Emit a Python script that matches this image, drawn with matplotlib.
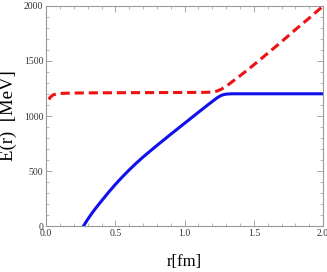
import matplotlib.pyplot as plt
from matplotlib.ticker import MultipleLocator

# values
r_blue = [0.27, 0.30, 0.33, 0.36, 0.40, 0.45, 0.50, 0.55, 0.60, 0.65, 0.70, 0.75, 0.80,
          0.90, 1.00, 1.10, 1.18, 1.24, 1.27, 1.30, 1.34, 1.40, 1.60, 1.80, 2.00]
E_blue = [0, 60, 115, 165, 228, 305, 378, 446, 510, 570, 627, 680, 732,
          834, 934, 1034, 1113, 1170, 1190, 1199, 1202, 1202, 1202, 1202, 1202]

r_red = [0.02, 0.03, 0.05, 0.08, 0.12, 0.20, 0.40, 0.60, 0.80, 1.00, 1.15, 1.20,
         1.23, 1.26, 1.30, 1.40, 1.50, 1.60, 1.70, 1.80, 1.90, 2.00]
E_red = [1150, 1170, 1192, 1202, 1206, 1209, 1211, 1212, 1213, 1214, 1215, 1218,
         1225, 1240, 1270, 1365, 1465, 1570, 1675, 1785, 1890, 2000]

plt.rcParams['font.family'] = ['Liberation Serif', 'DejaVu Serif']

fig = plt.figure(figsize=(3.27, 2.72), dpi=100)
ax = fig.add_axes([0.141, 0.169, 0.847, 0.809])

ax.plot(r_red, E_red, color='#ee1111', lw=2.2, ls=(0, (3, 1.6)))
ax.plot(r_blue, E_blue, color='#1010ee', lw=2.2)

ax.set_xlim(0, 2.0)
ax.set_ylim(0, 2000)
ax.xaxis.set_major_locator(MultipleLocator(0.5))
ax.xaxis.set_minor_locator(MultipleLocator(0.1))
ax.yaxis.set_major_locator(MultipleLocator(500))
ax.yaxis.set_minor_locator(MultipleLocator(100))
ax.xaxis.set_major_formatter(plt.FuncFormatter(lambda v, p: f"{v:.1f}"))

for s in ax.spines.values():
    s.set_color('#999999')
    s.set_linewidth(0.8)
ax.tick_params(which='both', direction='in', top=True, right=True,
               color='#999999', labelsize=7, labelcolor='#333333', pad=2)
ax.tick_params(which='major', length=4, width=0.6)
ax.tick_params(which='minor', length=2, width=0.5)

ax.set_xlabel('r[fm]', fontsize=12, labelpad=12)
ax.set_ylabel('E(r)  [MeV]', fontsize=13.5)
ax.yaxis.set_label_coords(-0.105, 0.5)

fig.savefig('out.png', dpi=100)
